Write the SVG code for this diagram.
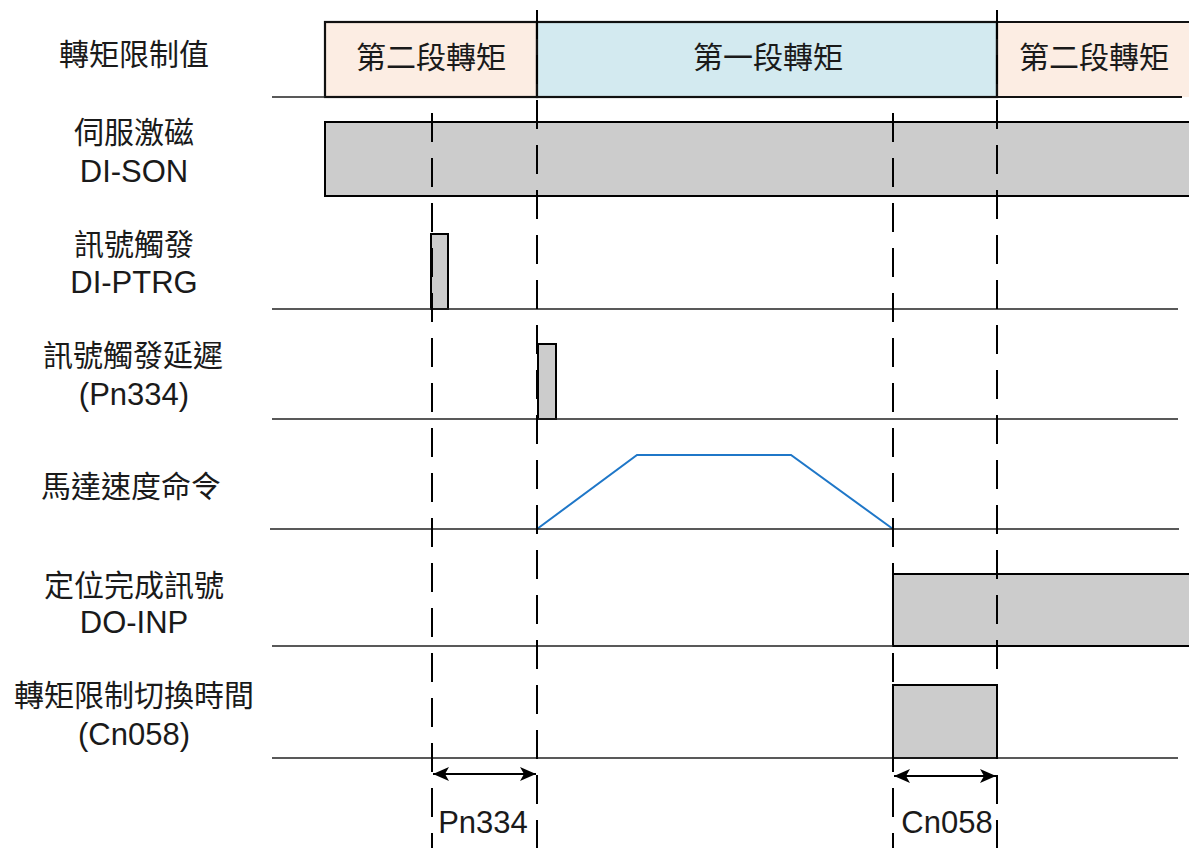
<svg xmlns="http://www.w3.org/2000/svg" width="1189" height="848" viewBox="0 0 1189 848">
<defs>
<style>
.t{font-family:"Liberation Sans","Noto Sans CJK TC",sans-serif;font-size:30px;fill:#1a1a1a;text-anchor:middle}
.l{font-size:31px}
.base{stroke:#222;stroke-width:1.6;fill:none}
.dash{stroke:#000;stroke-width:2;stroke-dasharray:29 16;fill:none}
.box{stroke:#111;stroke-width:2.2}
.gray{fill:#cccccc;stroke:#000;stroke-width:2}
.arr{stroke:#000;stroke-width:2;fill:none;marker-start:url(#ah);marker-end:url(#ah)}
</style>
<marker id="ah" viewBox="0 0 16 14" refX="16" refY="7" markerWidth="16" markerHeight="14" markerUnits="userSpaceOnUse" orient="auto-start-reverse">
<path d="M0,0 L16,7 L0,14 L4,7 Z" fill="#000"/>
</marker>
</defs>
<rect width="1189" height="848" fill="#fff"/>

<g id="row-torque">
<rect class="box" x="325" y="22" width="212" height="75" fill="#fcede3"/>
<rect class="box" x="537" y="22" width="460" height="75" fill="#d3eaf0"/>
<rect x="997" y="22" width="194" height="75" fill="#fcede3"/>
<line class="box" x1="997" y1="22" x2="1189" y2="22"/>
<line class="box" x1="997" y1="97" x2="1182" y2="97"/>
<line class="box" x1="997" y1="22" x2="997" y2="97"/>
<text class="t" x="134" y="65">轉矩限制值</text>
<text class="t" x="431" y="68">第二段轉矩</text>
<text class="t" x="768" y="68">第一段轉矩</text>
<text class="t" x="1094" y="68">第二段轉矩</text>
</g>

<g id="row-son">
<rect class="gray" x="325" y="122" width="870" height="74"/>
<text class="t" x="134" y="143">伺服激磁</text>
<text class="t l" x="134" y="182">DI-SON</text>
</g>

<g id="row-ptrg">
<rect class="gray" x="431" y="234" width="17" height="75"/>
<text class="t" x="134" y="255">訊號觸發</text>
<text class="t l" x="134" y="293">DI-PTRG</text>
</g>

<g id="row-pn334">
<rect class="gray" x="538" y="344" width="18" height="75"/>
<text class="t" x="133" y="366">訊號觸發延遲</text>
<text class="t l" x="134" y="405">(Pn334)</text>
</g>

<g id="row-speed">
<polyline points="537,529 637,455 791,455 893,529" fill="none" stroke="#1f77c8" stroke-width="2"/>
<text class="t" x="131" y="497">馬達速度命令</text>
</g>

<g id="row-inp">
<rect class="gray" x="893" y="574" width="300" height="72"/>
<text class="t" x="134" y="596">定位完成訊號</text>
<text class="t l" x="134" y="633">DO-INP</text>
</g>

<g id="row-cn058">
<rect class="gray" x="893" y="685" width="104" height="73"/>
<text class="t" x="134" y="706">轉矩限制切換時間</text>
<text class="t l" x="134" y="745">(Cn058)</text>
</g>

<g id="baselines">
<line class="base" x1="272" y1="97" x2="325" y2="97"/>
<line class="base" x1="272" y1="309" x2="1178" y2="309"/>
<line class="base" x1="272" y1="419" x2="1178" y2="419"/>
<line class="base" x1="270" y1="529" x2="1179" y2="529"/>
<line class="base" x1="272" y1="646" x2="893" y2="646"/>
<line class="base" x1="272" y1="758" x2="1178" y2="758"/>
</g>

<g id="connectors">
<line class="dash" x1="432" y1="113" x2="432" y2="848"/>
<line class="dash" x1="537" y1="10" x2="537" y2="848"/>
<line class="dash" x1="893" y1="113" x2="893" y2="848"/>
<line class="dash" x1="997" y1="10" x2="997" y2="848"/>
<line class="arr" x1="433" y1="774" x2="536" y2="774"/>
<line class="arr" x1="894" y1="776" x2="996" y2="776"/>
</g>

<g id="labels">
<text class="t l" x="483" y="833">Pn334</text>
<text class="t l" x="947" y="833">Cn058</text>
</g>
</svg>
